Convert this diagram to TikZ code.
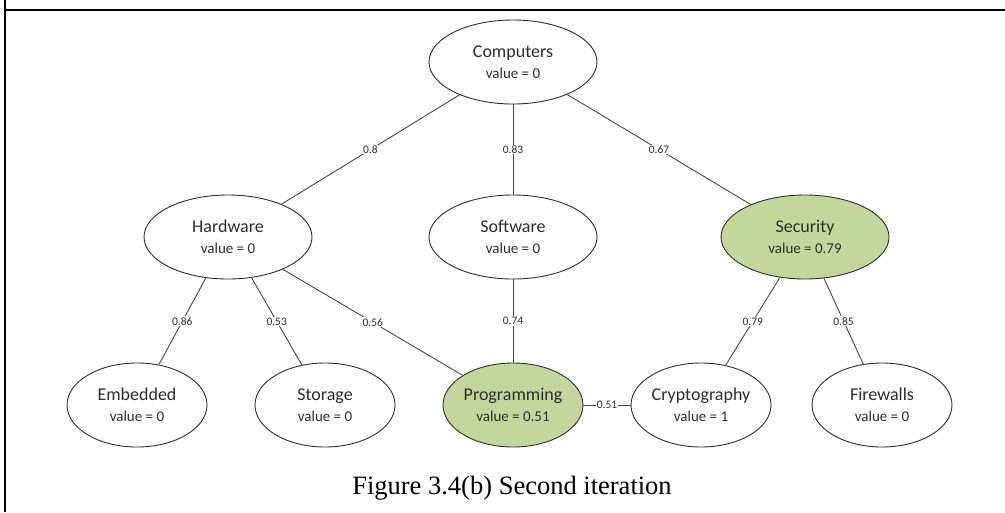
\documentclass[tikz,border=0pt]{standalone}
\usepackage{fontspec}
\setmainfont{Carlito}
\newfontfamily\capfont{Liberation Serif}
\usetikzlibrary{shapes.geometric}
\definecolor{leaf}{RGB}{195,214,155}
\definecolor{ink}{RGB}{45,45,45}
\definecolor{edgegray}{RGB}{70,70,70}
\begin{document}
\begin{tikzpicture}[x=1pt,y=-1pt,
  topic/.style={ellipse,draw=ink,line width=0.9pt,fill=white,inner sep=0pt,
    text=ink,align=center,font=\fontsize{18}{23}\selectfont},
  wide/.style={topic,minimum width=168pt,minimum height=84pt},
  narrow/.style={topic,minimum width=140pt,minimum height=84pt},
  hit/.style={fill=leaf},
  link/.style={draw=edgegray,line width=0.9pt},
  weight/.style={fill=white,inner sep=1pt,text=ink,font=\fontsize{11.5}{13}\selectfont},
  frameline/.style={line width=2pt,black}
]
\useasboundingbox (0,0) rectangle (1005,512);
% cell borders
\coordinate (fl0) at (5,0);
\coordinate (fl1) at (5,512);
\coordinate (ft0) at (4,10);
\coordinate (ft1) at (1005,10);
\draw[frameline] (fl0) -- (fl1);
\draw[frameline] (ft0) -- (ft1);

\newcommand{\val}[1]{\\[-2pt]{\fontsize{15}{18}\selectfont value = #1}}

% top level
\node[wide] (comp) at (513,62) {Computers\val{0}};
% second level
\node[wide] (hw) at (228,237) {Hardware\val{0}};
\node[wide] (sw) at (513,237) {Software\val{0}};
\node[wide,hit] (sec) at (805,237) {Security\val{0.79}};
% third level
\node[narrow] (emb) at (137,405) {Embedded\val{0}};
\node[narrow] (sto) at (325,405) {Storage\val{0}};
\node[narrow,hit] (prog) at (513,405) {Programming\val{0.51}};
\node[narrow] (cry) at (701,405) {Cryptography\val{1}};
\node[narrow] (fw) at (882,405) {Firewalls\val{0}};

% weighted links
\begin{scope}[on background layer/.style={}]
\path[link] (comp) -- node[weight] {0.8} (hw);
\path[link] (comp) -- node[weight] {0.83} (sw);
\path[link] (comp) -- node[weight] {0.67} (sec);
\path[link] (hw) -- node[weight] {0.86} (emb);
\path[link] (hw) -- node[weight] {0.53} (sto);
\path[link] (hw) -- node[weight] {0.56} (prog);
\path[link] (sw) -- node[weight] {0.74} (prog);
\path[link] (sec) -- node[weight] {0.79} (cry);
\path[link] (sec) -- node[weight] {0.85} (fw);
\path[link] (prog) -- node[weight] {0.51} (cry);
\end{scope}

\node[anchor=base,font=\capfont\fontsize{26.5}{30}\selectfont,text=black] (cap) at (512,494)
  {Figure 3.4(b) Second iteration};
\end{tikzpicture}
\end{document}
